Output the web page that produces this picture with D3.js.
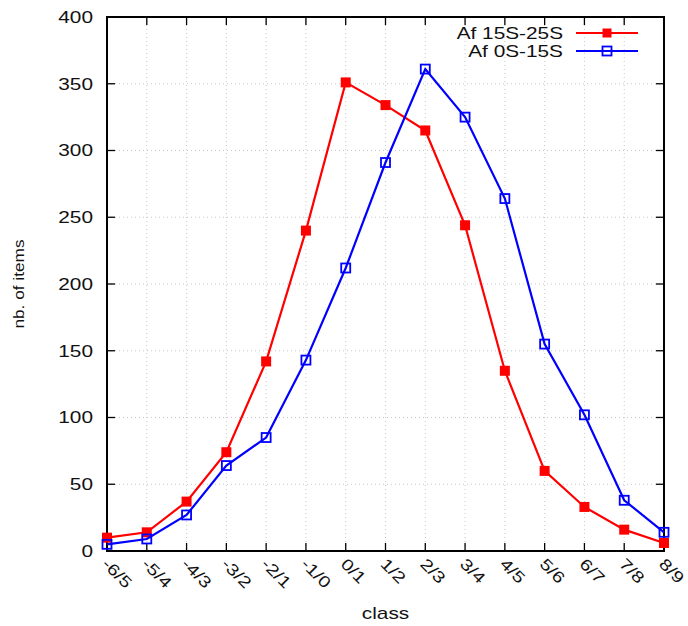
<!DOCTYPE html>
<html>
<head>
<meta charset="utf-8">
<script src="https://cdn.jsdelivr.net/npm/d3@7"></script>
<style>
  body { margin: 0; background: #fff; }
  svg { display: block; font-family: "Liberation Sans", Arial, sans-serif; }
</style>
</head>
<body>
<div id="chart"></div>
<script>
// class bins along x
const classes = ["-6/5", "-5/4", "-4/3", "-3/2", "-2/1", "-1/0", "0/1", "1/2", "2/3", "3/4", "4/5", "5/6", "6/7", "7/8", "8/9"];
// counts per latitude band
const af15to25 = [10, 14, 37, 74, 142, 240, 351, 334, 315, 244, 135, 60, 33, 16, 6];
const af0to15 = [5, 9, 27, 64, 85, 143, 212, 291, 361, 325, 264, 155, 102, 38, 14];
const yTicks = [0, 50, 100, 150, 200, 250, 300, 350, 400];

const width = 688, height = 626;
const margin = {top: 17, right: 24, bottom: 75, left: 107};
const stretch = 1.3; // gnuplot font looks wide

const svg = d3.select("#chart").append("svg")
  .attr("width", width)
  .attr("height", height);

const x = d3.scalePoint()
  .domain(classes)
  .range([margin.left, width - margin.right]);

const y = d3.scaleLinear()
  .domain([0, 400])
  .range([height - margin.bottom, margin.top]);

const x0 = margin.left, x1 = width - margin.right;
const y0 = height - margin.bottom, y1 = margin.top;

// dotted grid
const grid = svg.append("g").attr("stroke", "#c8c8c8").attr("stroke-dasharray", "1,3").attr("stroke-width", 1);
grid.selectAll("line.v").data(classes.slice(1, -1)).join("line")
  .attr("x1", d => x(d)).attr("x2", d => x(d))
  .attr("y1", y1).attr("y2", y0);
grid.selectAll("line.h").data(yTicks.slice(1, -1)).join("line")
  .attr("x1", x0).attr("x2", x1)
  .attr("y1", d => y(d)).attr("y2", d => y(d));

// axes with mirrored inward ticks
const tickLen = 8;
const axes = svg.append("g").attr("stroke", "#000").attr("stroke-width", 1.3);
axes.selectAll("line.xb").data(classes).join("line")
  .attr("x1", d => x(d)).attr("x2", d => x(d))
  .attr("y1", y0).attr("y2", y0 - tickLen);
axes.selectAll("line.xt").data(classes).join("line")
  .attr("x1", d => x(d)).attr("x2", d => x(d))
  .attr("y1", y1).attr("y2", y1 + tickLen);
axes.selectAll("line.yl").data(yTicks).join("line")
  .attr("x1", x0).attr("x2", x0 + tickLen)
  .attr("y1", d => y(d)).attr("y2", d => y(d));
axes.selectAll("line.yr").data(yTicks).join("line")
  .attr("x1", x1).attr("x2", x1 - tickLen)
  .attr("y1", d => y(d)).attr("y2", d => y(d));

svg.append("rect")
  .attr("x", x0).attr("y", y1)
  .attr("width", x1 - x0).attr("height", y0 - y1)
  .attr("fill", "none").attr("stroke", "#000").attr("stroke-width", 2);

// tick labels
svg.append("g").selectAll("text").data(yTicks).join("text")
  .attr("transform", d => `translate(${x0 - 14},${y(d)}) scale(${stretch},1)`)
  .attr("dy", "0.36em")
  .attr("text-anchor", "end")
  .attr("font-size", 16)
  .attr("fill", "#111")
  .text(d => d);

svg.append("g").selectAll("text").data(classes).join("text")
  .attr("transform", d => `translate(${x(d) - 2},${y0 + 10}) rotate(45) scale(1.25,1)`)
  .attr("dy", "0.35em")
  .attr("text-anchor", "start")
  .attr("font-size", 16)
  .attr("fill", "#111")
  .text(d => d);

// axis titles
svg.append("text")
  .attr("transform", `translate(${(x0 + x1) / 2},619) scale(${stretch},1)`)
  .attr("text-anchor", "middle")
  .attr("font-size", 16)
  .attr("fill", "#111")
  .text("class");

svg.append("text")
  .attr("transform", `translate(24,${(y0 + y1) / 2}) rotate(-90) scale(1.15,1)`)
  .attr("text-anchor", "middle")
  .attr("font-size", 15)
  .attr("fill", "#111")
  .text("nb. of items");

// series
const line = d3.line().x((d, i) => x(classes[i])).y(d => y(d));
const ms = 10;

svg.append("path").datum(af15to25)
  .attr("d", line).attr("fill", "none").attr("stroke", "#ff0000").attr("stroke-width", 2.2);
svg.append("g").selectAll("rect").data(af15to25).join("rect")
  .attr("x", (d, i) => x(classes[i]) - ms / 2)
  .attr("y", d => y(d) - ms / 2)
  .attr("width", ms).attr("height", ms)
  .attr("fill", "#ff0000");

svg.append("path").datum(af0to15)
  .attr("d", line).attr("fill", "none").attr("stroke", "#0000ff").attr("stroke-width", 2.2);
svg.append("g").selectAll("rect").data(af0to15).join("rect")
  .attr("x", (d, i) => x(classes[i]) - (ms - 1) / 2)
  .attr("y", d => y(d) - (ms - 1) / 2)
  .attr("width", ms - 1).attr("height", ms - 1)
  .attr("fill", "none").attr("stroke", "#0000ff").attr("stroke-width", 1.8);

// legend
const legend = [
  {label: "Af 15S-25S", color: "#ff0000", filled: true},
  {label: "Af 0S-15S", color: "#0000ff", filled: false}
];
const lg = svg.append("g").selectAll("g").data(legend).join("g")
  .attr("transform", (d, i) => `translate(0,${33 + i * 18})`);
lg.append("text")
  .attr("transform", `translate(563,0) scale(${stretch},1)`)
  .attr("dy", "0.35em")
  .attr("text-anchor", "end")
  .attr("font-size", 16)
  .attr("fill", "#111")
  .text(d => d.label);
lg.append("line")
  .attr("x1", 576).attr("x2", 638)
  .attr("stroke", d => d.color).attr("stroke-width", 2.2);
lg.append("rect")
  .attr("x", 607 - (ms - 1) / 2).attr("y", -(ms - 1) / 2)
  .attr("width", ms - 1).attr("height", ms - 1)
  .attr("fill", d => d.filled ? d.color : "none")
  .attr("stroke", d => d.filled ? "none" : d.color)
  .attr("stroke-width", 1.8);
</script>
</body>
</html>
